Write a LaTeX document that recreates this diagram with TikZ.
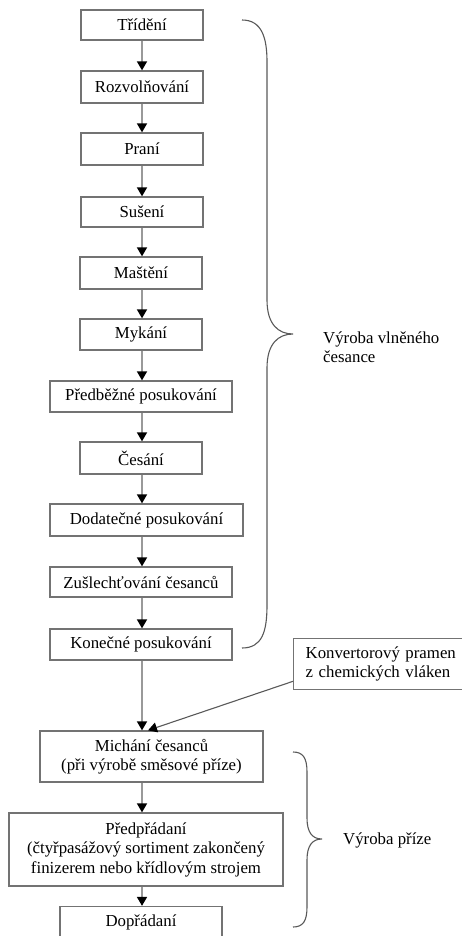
\documentclass[tikz,border=0pt]{standalone}
\usepackage{fontspec}
\setmainfont{Liberation Serif}
\newfontfamily\tnr{Liberation Serif}
\usetikzlibrary{arrows.meta,calc}
\begin{document}
\begin{tikzpicture}[x=1pt,y=-1pt,
  box/.style={draw=black!55, line width=1.3pt, fill=white, inner sep=0pt, align=center,
    font=\tnr\fontsize{16.8}{19.5}\selectfont},
  arr/.style={draw=black!40, line width=1.7pt, -{Triangle[length=9pt,width=10pt,fill=black,color=black]}},
  darr/.style={draw=black!65, line width=1.1pt, -{Triangle[length=9pt,width=10pt,fill=black,color=black]}},
  brace/.style={draw=black!65, line width=1.1pt},
  lbl/.style={font=\tnr\fontsize{16.8}{19.5}\selectfont, align=left, inner sep=0pt}]
\useasboundingbox (0,0) rectangle (462,936);
\coordinate (xr) at (142,0);
\node[box, minimum width=122pt, minimum height=30pt] (t1) at (142,25) {Třídění};
\node[box, minimum width=122pt, minimum height=32pt] (t2) at (142,87) {Rozvolňování};
\node[box, minimum width=122pt, minimum height=32pt] (t3) at (142,149) {Praní};
\node[box, minimum width=122pt, minimum height=30pt] (t4) at (142,212) {Sušení};
\node[box, minimum width=122pt, minimum height=32pt] (t5) at (141,273) {Maštění};
\node[box, minimum width=122pt, minimum height=31pt] (t6) at (141,334.5) {Mykání};
\node[box, minimum width=182pt, minimum height=31pt] (t7) at (141,396.5) {Předběžné posukování};
\node[box, minimum width=122pt, minimum height=32pt] (t8) at (141,458) {Česání};
\node[box, minimum width=193pt, minimum height=32pt] (t9) at (146.5,520) {Dodatečné posukování};
\node[box, minimum width=182pt, minimum height=30pt] (t10) at (141,582) {Zušlechťování česanců};
\node[box, minimum width=182pt, minimum height=31pt] (t11) at (141,644.5) {Konečné posukování};
\node[box, anchor=north west, minimum height=51pt, text width=160pt, inner xsep=12pt, align=left] (konv) at (293,638) {Konvertorový pramen\\z chemických vláken};
\node[box, minimum width=223pt, minimum height=51pt] (mich) at (151.5,756.5) {Michání česanců\\(při výrobě směsové příze)};
\node[box, minimum width=274pt, minimum height=73pt] (pred) at (146,849.5) {Předpřádaní\\(čtyřpasážový sortiment zakončený\\finizerem nebo křídlovým strojem};
\node[box, minimum width=162pt, minimum height=31pt] (dopr) at (141,922) {Dopřádaní};
\foreach \a/\b in {t1/t2,t2/t3,t3/t4,t4/t5,t5/t6,t6/t7,t7/t8,t8/t9,t9/t10,t10/t11,t11/mich,mich/pred,pred/dopr}
  \draw[arr] (\a.south -| xr) -- (\b.north -| xr);
\coordinate (ks) at ($(konv.south west)+(0,-9)$);
\coordinate (me) at ($(mich.north)+(-3.5,0)$);
\draw[darr] (ks) -- (me);
% big brace
\draw[brace] (242,20) .. controls (262,20) and (267,38) .. (267,62) -- (267,300)
  .. controls (267,324) and (278,334) .. (293,334)
  .. controls (278,334) and (267,344) .. (267,368) -- (267,605)
  .. controls (267,632) and (262,648) .. (242,648);
\node[lbl, anchor=west] (l1) at (323,347) {Výroba vlněného\\česance};
% small brace
\draw[brace] (293,752) .. controls (303,752) and (307,758) .. (307,772) -- (307,818)
  .. controls (307,832) and (312,839) .. (322,839)
  .. controls (312,839) and (307,846) .. (307,860) -- (307,907)
  .. controls (307,921) and (303,927) .. (293,927);
\node[lbl, anchor=west] (l2) at (343,840) {Výroba příze};
\end{tikzpicture}
\end{document}
